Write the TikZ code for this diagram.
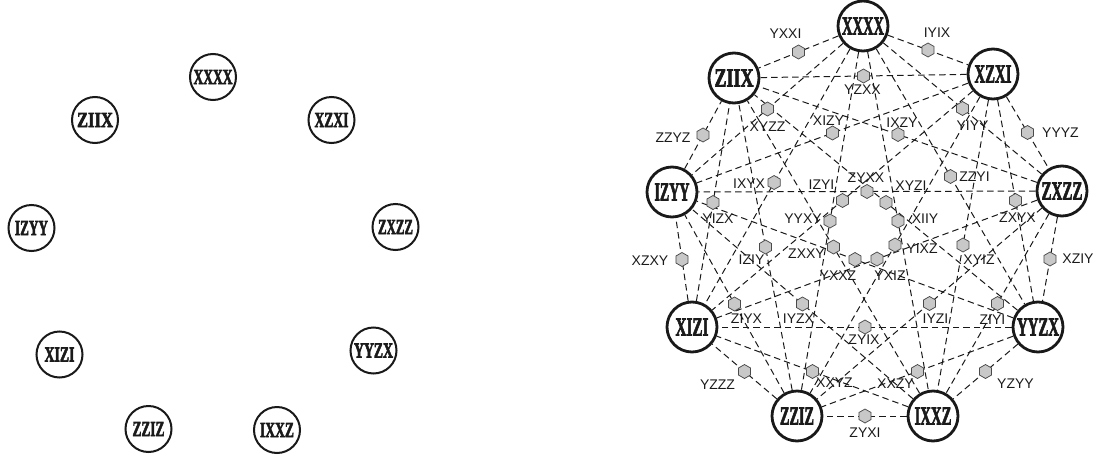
\documentclass[tikz,border=0pt]{standalone}
\usepackage{fontspec}
\usepackage{graphicx}
\usetikzlibrary{calc,shapes.geometric}
\newfontfamily\labfont{Liberation Sans}
\newfontfamily\nodfont{Liberation Serif}[BoldFeatures={FakeBold=3}]
\definecolor{hexfill}{HTML}{C8C8C8}
\definecolor{hexline}{HTML}{4A4A4A}
\definecolor{txt}{HTML}{1A1A1A}
\newcommand{\mylefttxt}[2]{\resizebox{#1pt}{14pt}{\nodfont\bfseries\fontsize{20}{20}\selectfont #2}}
\newcommand{\myrighttxt}[2]{\resizebox{#1pt}{17pt}{\nodfont\bfseries\fontsize{25}{25}\selectfont #2}}
\tikzset{
  lnode/.style={circle,draw=black!90,line width=2pt,minimum size=46pt,inner sep=0pt,text=txt},
  rnode/.style={circle,draw=black!90,line width=2.8pt,minimum size=50pt,inner sep=0pt,text=txt},
  edgeline/.style={draw=black!90,line width=1pt,dash pattern=on 6.5pt off 4pt},
  hexa/.style={regular polygon,regular polygon sides=6,shape border rotate=30,draw=hexline,fill=hexfill,line width=0.75pt,minimum size=14pt,inner sep=0pt},
  elab/.style={font=\labfont\fontsize{14}{16}\selectfont,text=txt,inner sep=0pt},
}
\def\edgelist{
A/B/IYIX/9/-17/0.5,
A/C/YIYY/10/17/0.5,
A/D/ZZYI/24/0/0.5,
A/E/XIIY/27/-2/0.5,
A/F/YYXY/-27/-2/0.5,
A/G/IXYX/-25/1/0.52,
A/H/XYZZ/0/18/0.5,
A/I/YXXI/-13/-18/0.5,
B/C/YYYZ/33/0/0.5,
B/D/ZXYX/2/17/0.5,
B/E/XYIZ/16/15/0.5,
B/F/YIXZ/27/4/0.5,
B/G/IZYI/-21/-16/0.5,
B/H/XIZY/-4/-12/0.5,
B/I/YZXX/-1/14/0.5,
C/D/XZIY/28/0/0.5,
C/E/ZIYI/-5/16/0.5,
C/F/IYZI/6/15/0.5,
C/G/YXIZ/13/17/0.5,
C/H/ZYXX/-1/-14/0.5,
C/I/IXZY/4/-12/0.5,
D/E/YZYY/30/12/0.5,
D/F/XXZY/-22/12/0.5,
D/G/ZYIX/-1/13/0.5,
D/H/YXXZ/-17/16/0.5,
D/I/XYZI/25/-17/0.5,
E/F/ZYXI/0/17/0.5,
E/G/XXYZ/22/11/0.5,
E/H/IYZX/-4/15/0.5,
E/I/ZXXY/-27/7/0.5,
F/G/YZZZ/-27/13/0.5,
F/H/ZIYX/12/15/0.5,
F/I/IZIY/-14/13/0.5,
G/H/XZXY/-32/1/0.5,
G/I/YIZX/5/16/0.5,
H/I/ZZYZ/-30/3/0.5}
\begin{document}
\begin{tikzpicture}[x=1pt,y=-1pt]
\useasboundingbox (0,0) rectangle (1096,461);
% left ring
\node[lnode] (l1) at (213,77) {\mylefttxt{39}{XXXX}};
\node[lnode] (l2) at (95,120) {\mylefttxt{36}{ZIIX}};
\node[lnode] (l3) at (331.5,120) {\mylefttxt{34}{XZXI}};
\node[lnode] (l4) at (31.5,228) {\mylefttxt{33}{IZYY}};
\node[lnode] (l5) at (395.5,227) {\mylefttxt{35}{ZXZZ}};
\node[lnode] (l6) at (59.5,354.5) {\mylefttxt{30}{XIZI}};
\node[lnode] (l7) at (373.5,350.5) {\mylefttxt{39}{YYZX}};
\node[lnode] (l8) at (148.5,429) {\mylefttxt{32}{ZZIZ}};
\node[lnode] (l9) at (277,430) {\mylefttxt{34}{IXXZ}};
% right graph
\node[rnode] (A) at (863,26) {\myrighttxt{42}{XXXX}};
\node[rnode] (I) at (734,78) {\myrighttxt{39}{ZIIX}};
\node[rnode] (B) at (993,74) {\myrighttxt{37}{XZXI}};
\node[rnode] (H) at (672,192) {\myrighttxt{35}{IZYY}};
\node[rnode] (C) at (1062,191) {\myrighttxt{41}{ZXZZ}};
\node[rnode] (G) at (692,327) {\myrighttxt{33}{XIZI}};
\node[rnode] (D) at (1038,327) {\myrighttxt{42}{YYZX}};
\node[rnode] (F) at (797,416) {\myrighttxt{34}{ZZIZ}};
\node[rnode] (E) at (933,416) {\myrighttxt{37}{IXXZ}};
\foreach \a/\b/\t/\dx/\dy/\p in \edgelist {
  \draw[edgeline] (\a) -- (\b);
}
\foreach \a/\b/\t/\dx/\dy/\p in \edgelist {
  \node[hexa] (h\a\b) at ($(\a)!\p!(\b)$) {};
  \node[elab] (t\a\b) at ([shift={(\dx,\dy)}]h\a\b.center) {\t};
}
\end{tikzpicture}
\end{document}
